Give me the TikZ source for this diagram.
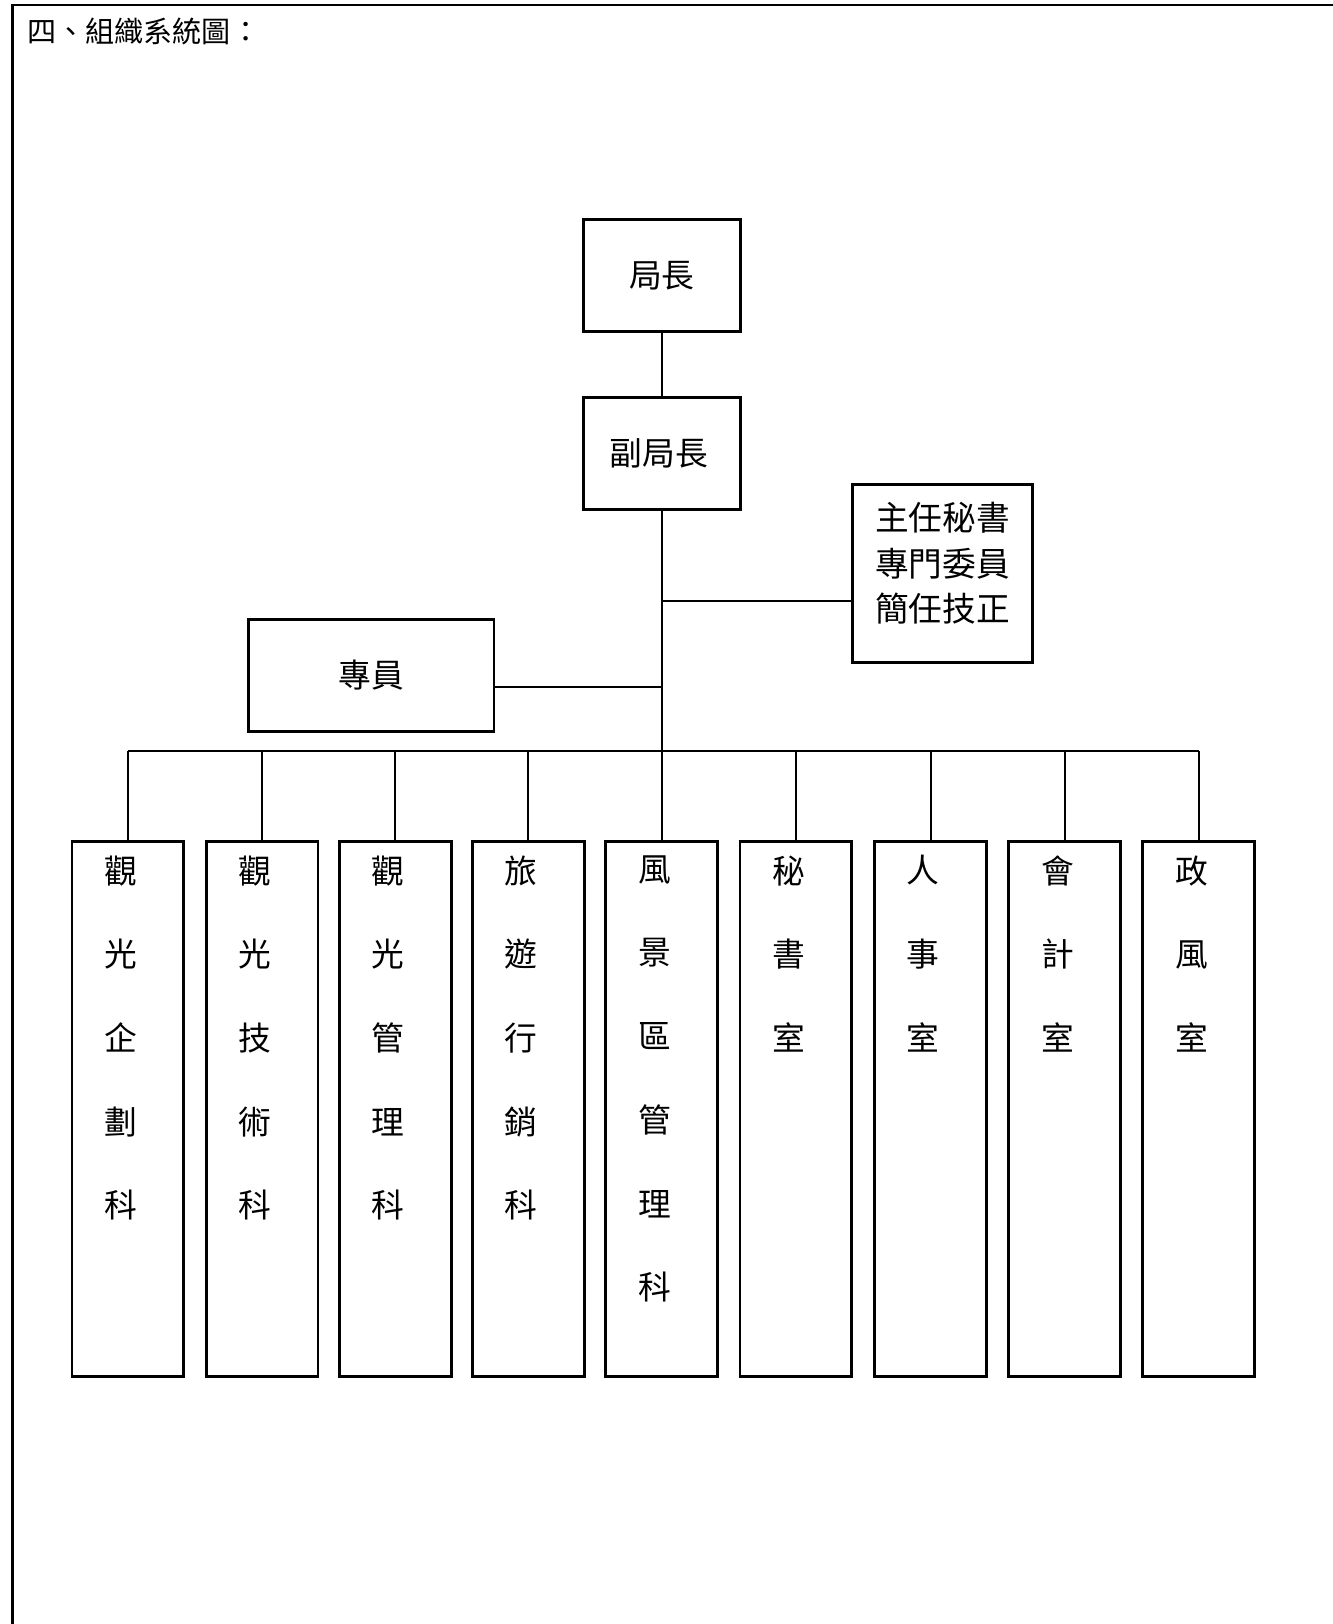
\documentclass[tikz,border=0pt]{standalone}
\usepackage{fontspec}
\newfontfamily\cjk{Noto Sans CJK TC}
\begin{document}
\begin{tikzpicture}[x=0.02cm,y=-0.02cm,
  box/.style={draw, line width=1.6pt, inner sep=0pt, font=\cjk\fontsize{18}{22}\selectfont},
  topbox/.style={box, minimum width=3.04cm, minimum height=2.16cm},
  unitbox/.style={draw, line width=1.6pt, inner sep=0pt, minimum width=2.16cm, minimum height=10.34cm},
  coltext/.style={anchor=north, inner sep=0pt, align=center, xshift=-0.14cm, yshift=-0.3cm, font=\cjk\fontsize{18}{46}\selectfont},
  link/.style={line width=1.2pt},
  framel/.style={line width=1.2pt}]
\useasboundingbox (0,0) rectangle (1286.6,1568);
% frame
\coordinate (ftr) at (1287,5);
\coordinate (ftl) at (12,5);
\coordinate (fbl) at (12,1568);
\draw[framel] (ftr) -- (ftl) -- (fbl);
\node[anchor=west, inner sep=0pt, font=\cjk\fontsize{16}{19}\selectfont] (title) at (26,30) {四、組織系統圖：};
% top boxes
\node[topbox] (chief) at (639,266) {局長};
\node[topbox] (vice) at (639,438) {\hspace*{-0.12cm}副局長};
\node[box, minimum width=3.48cm, minimum height=3.44cm,
  label={[name=sectext, anchor=center, align=center, inner sep=0pt, yshift=0.2cm, font=\cjk\fontsize{18.5}{25}\selectfont]center:主任秘書\\專門委員\\簡任技正}] (sec) at (910,554) {};
\node[box, minimum width=4.74cm, minimum height=2.16cm] (staff) at (358.5,652) {專員};
% units
\foreach \i/\x/\t in {1/123.5/{觀\\光\\企\\劃\\科},2/253/{觀\\光\\技\\術\\科},3/381.5/{觀\\光\\管\\理\\科},4/510/{旅\\遊\\行\\銷\\科},5/639/{風\\景\\區\\管\\理\\科},6/768.5/{秘\\書\\室},7/898.5/{人\\事\\室},8/1028/{會\\計\\室},9/1157.5/{政\\風\\室}}{
  \node[unitbox, label={[coltext, name=t\i]north:\t}] (c\i) at (\x,1070.5) {};
}
% connectors
\coordinate (bus) at (639,725);
\coordinate (secin) at ([yshift=-0.52cm]sec.west);
\coordinate (stin) at ([yshift=-0.22cm]staff.east);
\draw[link] (chief) -- (vice);
\draw[link] (vice.south) -- (vice.south |- bus);
\draw[link] (secin) -- (secin -| vice.south);
\draw[link] (stin) -- (stin -| vice.south);
\draw[link] (c1.north |- bus) -- (c9.north |- bus);
\foreach \i in {1,...,9}{
  \draw[link] (c\i.north) -- (c\i.north |- bus);
}
\end{tikzpicture}
\end{document}
